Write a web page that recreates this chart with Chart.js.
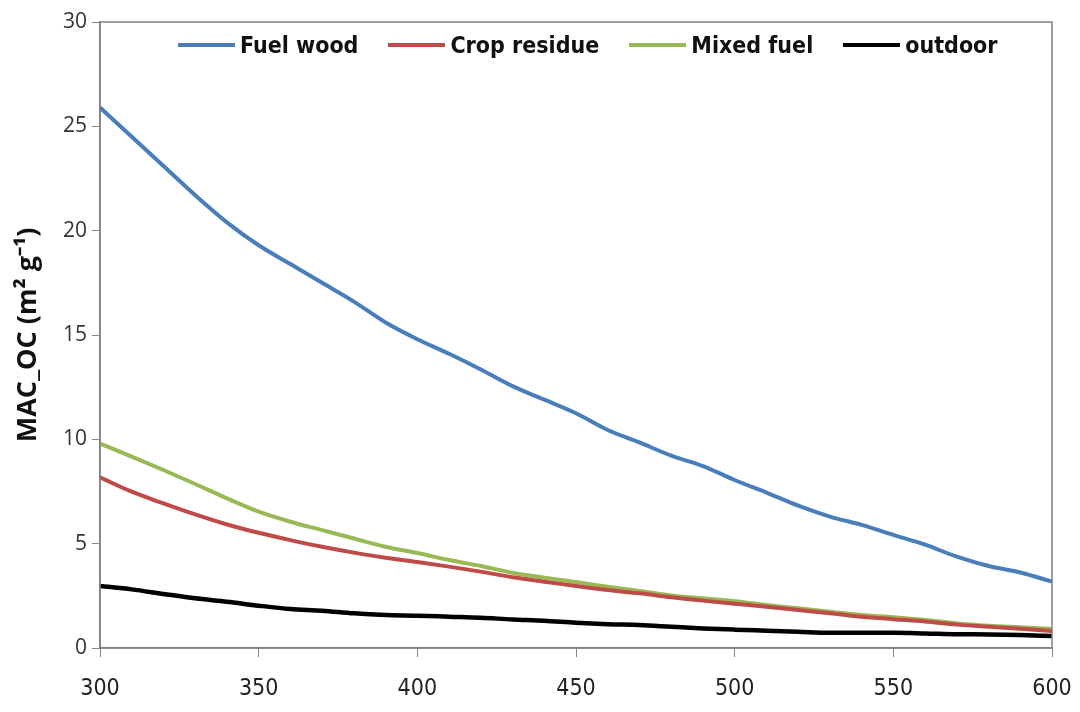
<!DOCTYPE html>
<html>
<head>
<meta charset="utf-8">
<script src="https://cdn.jsdelivr.net/npm/chart.js@4.4.0/dist/chart.umd.min.js"></script>
<style>
    html, body { margin: 0; padding: 0; background: #fff; overflow: hidden; }
    #grafico-box { position: relative; width: 1080px; height: 712px; }
    #chart_mac_oc { display: block; }
    #legenda {
        position: absolute; top: 32px; left: 178px;
        display: flex; align-items: center; gap: 30px;
        font-family: 'Liberation Sans Narrow', 'DejaVu Sans Condensed', sans-serif;
        font-size: 23px; font-weight: bold; color: #111;
    }
    #legenda .item { display: flex; align-items: center; }
    #legenda .linha { display: inline-block; width: 57px; height: 4px; margin-right: 5px; }
</style>
</head>
<body>
<div id="grafico-box">
    <canvas id="chart_mac_oc"></canvas>
    <div id="legenda"></div>
</div>
<script>
var comprimentosOnda = [300, 310, 320, 330, 340, 350, 360, 370, 380, 390, 400, 410, 420, 430, 440, 450,
    460, 470, 480, 490, 500, 510, 520, 530, 540, 550, 560, 570, 580, 590, 600];

var fuelWood = [25.9, 24.5, 23.1, 21.7, 20.4, 19.3, 18.4, 17.5, 16.6, 15.6, 14.8, 14.1, 13.35, 12.55, 11.9, 11.25,
    10.45, 9.85, 9.22, 8.72, 8.05, 7.45, 6.82, 6.3, 5.9, 5.42, 4.95, 4.38, 3.93, 3.62, 3.18];

var cropResidue = [8.18, 7.49, 6.93, 6.4, 5.92, 5.52, 5.17, 4.85, 4.57, 4.33, 4.12, 3.9, 3.66, 3.39, 3.18, 2.97,
    2.78, 2.62, 2.43, 2.27, 2.12, 1.98, 1.82, 1.67, 1.5, 1.38, 1.27, 1.12, 1.02, 0.92, 0.82];

var mixedFuel = [9.8, 9.17, 8.53, 7.86, 7.17, 6.53, 6.05, 5.65, 5.25, 4.85, 4.55, 4.22, 3.93, 3.61, 3.37, 3.16,
    2.94, 2.73, 2.52, 2.38, 2.24, 2.06, 1.9, 1.74, 1.58, 1.47, 1.34, 1.18, 1.07, 0.99, 0.91];

var outdoor = [2.97, 2.81, 2.59, 2.38, 2.22, 2.03, 1.87, 1.79, 1.66, 1.58, 1.55, 1.5, 1.45, 1.37, 1.31, 1.21,
    1.14, 1.1, 1.02, 0.94, 0.88, 0.83, 0.78, 0.73, 0.73, 0.73, 0.7, 0.66, 0.65, 0.62, 0.57];

var ticksX = [300, 350, 400, 450, 500, 550, 600];
var ticksY = [0, 5, 10, 15, 20, 25, 30];

function montarPontos(valores) {
    var pontos = [];
    for (let i = 0; i < comprimentosOnda.length; i++) {
        pontos.push({ x: comprimentosOnda[i], y: valores[i] });
    }
    return pontos;
}

// moldura do grafico (caixa em volta da area de plotagem)
const moldura = {
    id: 'moldura',
    afterDraw(chart) {
        const { ctx, chartArea } = chart;
        ctx.save();
        ctx.strokeStyle = '#7f7f7f';
        ctx.lineWidth = 1.5;
        ctx.strokeRect(chartArea.left, chartArea.top, chartArea.right - chartArea.left, chartArea.bottom - chartArea.top);
        ctx.restore();
    }
};

function plotarGrafico() {
    // Criando estrutura para plotar grafico - dados
    let dados = {
        datasets: [
            { label: 'Fuel wood', data: montarPontos(fuelWood), borderColor: '#4a7ebb', borderWidth: 4 },
            { label: 'Crop residue', data: montarPontos(cropResidue), borderColor: '#be4b48', borderWidth: 4 },
            { label: 'Mixed fuel', data: montarPontos(mixedFuel), borderColor: '#98b954', borderWidth: 4 },
            { label: 'outdoor', data: montarPontos(outdoor), borderColor: '#000000', borderWidth: 4.5 }
        ]
    };

    dados.datasets.forEach(function (ds) {
        ds.pointRadius = 0;
        ds.fill = false;
        ds.tension = 0.4;
        ds.cubicInterpolationMode = 'monotone';
    });

    const corEixo = '#868686';

    // Criando estrutura para plotar grafico - config
    const config = {
        type: 'line',
        data: dados,
        options: {
            responsive: true,
            maintainAspectRatio: false,
            animation: false,
            devicePixelRatio: 1,
            layout: { padding: { top: 22, right: 28, left: 0, bottom: 0 } },
            plugins: {
                legend: { display: false },
                tooltip: { enabled: false }
            },
            scales: {
                x: {
                    type: 'linear',
                    min: 300,
                    max: 600,
                    afterBuildTicks: function (scale) { scale.ticks = ticksX.map(v => ({ value: v })); },
                    afterFit: function (scale) {
                        scale.height = 64;
                        scale.paddingLeft = 0;
                        scale.paddingRight = 0;
                    },
                    grid: { drawOnChartArea: false, drawTicks: true, tickLength: 9, color: corEixo },
                    border: { display: true, color: corEixo, width: 1.5 },
                    ticks: {
                        padding: 18,
                        maxRotation: 0,
                        color: '#222',
                        font: { family: "'Liberation Sans Narrow', 'DejaVu Sans Condensed', sans-serif", size: 23 }
                    }
                },
                y: {
                    min: 0,
                    max: 30,
                    afterBuildTicks: function (scale) { scale.ticks = ticksY.map(v => ({ value: v })); },
                    afterFit: function (scale) { scale.width = 100; },
                    grid: { drawOnChartArea: false, drawTicks: true, tickLength: 8, color: corEixo },
                    border: { display: true, color: corEixo, width: 1.5 },
                    ticks: {
                        padding: 5,
                        color: '#333',
                        font: { family: "'Open Sans', sans-serif", size: 21 }
                    },
                    title: {
                        display: true,
                        text: 'MAC_OC (m² g⁻¹)',
                        color: '#111',
                        padding: { top: 12, bottom: 0 },
                        font: { family: "'Open Sans', sans-serif", size: 27, weight: 'bold' }
                    }
                }
            }
        },
        plugins: [moldura]
    };

    // Adicionando grafico criado em div na tela
    let myChart = new Chart(
        document.getElementById('chart_mac_oc'),
        config,
    );

    // legenda dentro da area do grafico
    var legenda = document.getElementById('legenda');
    myChart.data.datasets.forEach(function (ds) {
        var item = document.createElement('div');
        item.className = 'item';
        item.innerHTML = '<span class="linha" style="background:' + ds.borderColor + '"></span><span>' + ds.label + '</span>';
        legenda.appendChild(item);
    });
}

plotarGrafico();
</script>
</body>
</html>
